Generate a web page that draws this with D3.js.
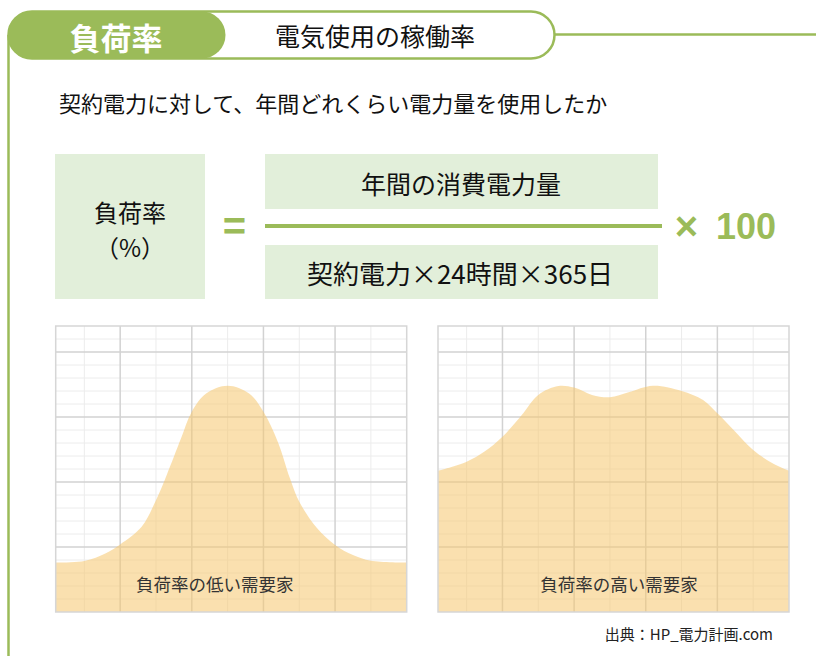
<!DOCTYPE html>
<html>
<head>
<meta charset="utf-8">
<script src="https://cdn.jsdelivr.net/npm/d3@7"></script>
<style>
  body { margin: 0; background: #fff; }
  text { font-family: "Noto Sans CJK JP", "Noto Sans", sans-serif; }
</style>
</head>
<body>
<div id="chart"></div>
<script>
// load profile, low load factor (x: time-ish units 0..49, y: 0..110)
var lowX = [0, 4, 7, 9, 12, 14, 15.5, 17.5, 19, 21, 24, 27, 29, 31, 32.7, 34, 36.5, 39, 41.5, 44, 49];
var lowY = [19, 19.6, 22.6, 26, 32.8, 43, 52.7, 66.8, 77, 84, 87, 84, 77, 65.5, 51.4, 42.4, 32.2, 25.8, 21.9, 19.7, 19];

// load profile, high load factor
var highX = [0, 4, 6.5, 9, 11.7, 14, 16.8, 19, 21.5, 24, 26.6, 30, 34, 37, 39, 41.5, 44, 46.7, 49];
var highY = [54.3, 57.8, 61.7, 67.4, 75.8, 83.5, 86.9, 86.3, 83.5, 82.6, 84.5, 87, 85, 81.5, 76.4, 69.3, 62.3, 57.2, 54.3];

// grid ticks
var majorX = [9, 19, 29, 39];
var minorX = [4, 14, 24, 34, 44];
var majorY = [25, 50, 75, 100];
var minorY = [5, 10, 15, 20, 30, 35, 40, 45, 55, 60, 65, 70, 80, 85, 90, 95, 105];

var chartLabels = ["負荷率の低い需要家", "負荷率の高い需要家"];

var green = "#9bbb59";
var boxFill = "#e2efda";

var svg = d3.select("#chart").append("svg")
  .attr("width", 816)
  .attr("height", 656);

// header
svg.append("line")
  .attr("x1", 8.5).attr("x2", 8.5).attr("y1", 35).attr("y2", 656)
  .attr("stroke", green).attr("stroke-width", 2.5);
svg.append("line")
  .attr("x1", 554).attr("x2", 816).attr("y1", 34.5).attr("y2", 34.5)
  .attr("stroke", green).attr("stroke-width", 2.5);
svg.append("rect")
  .attr("x", 8.5).attr("y", 11.5).attr("width", 546).attr("height", 47).attr("rx", 23.5)
  .attr("fill", "#fff").attr("stroke", green).attr("stroke-width", 2.5);
svg.append("rect")
  .attr("x", 8.5).attr("y", 11.5).attr("width", 217).attr("height", 47).attr("rx", 23.5)
  .attr("fill", green);
svg.append("text")
  .attr("x", 116).attr("y", 36)
  .attr("text-anchor", "middle").attr("dominant-baseline", "central")
  .attr("font-size", 31).attr("font-weight", "bold").attr("fill", "#fff")
  .text("負荷率");
svg.append("text")
  .attr("x", 375).attr("y", 35)
  .attr("text-anchor", "middle").attr("dominant-baseline", "central")
  .attr("font-size", 25).attr("fill", "#111")
  .text("電気使用の稼働率");

svg.append("text")
  .attr("x", 59).attr("y", 102)
  .attr("dominant-baseline", "central")
  .attr("font-size", 22).attr("fill", "#111")
  .text("契約電力に対して、年間どれくらい電力量を使用したか");

// formula
svg.append("rect").attr("x", 55).attr("y", 154).attr("width", 150).attr("height", 145).attr("fill", boxFill);
svg.append("rect").attr("x", 265).attr("y", 154).attr("width", 393).attr("height", 55).attr("fill", boxFill);
svg.append("rect").attr("x", 265).attr("y", 245).attr("width", 393).attr("height", 54).attr("fill", boxFill);

var fText = [
  {x: 130, y: 211, s: 24, t: "負荷率"},
  {x: 130, y: 246, s: 24, t: "（%）"},
  {x: 461, y: 183, s: 25, t: "年間の消費電力量"},
  {x: 460, y: 272, s: 26, t: "契約電力×24時間×365日"}
];
svg.selectAll(".ftext")
  .data(fText)
  .enter().append("text")
  .attr("class", "ftext")
  .attr("x", function(d) { return d.x; })
  .attr("y", function(d) { return d.y; })
  .attr("text-anchor", "middle").attr("dominant-baseline", "central")
  .attr("font-size", function(d) { return d.s; }).attr("fill", "#111")
  .text(function(d) { return d.t; });

svg.append("line")
  .attr("x1", 265).attr("x2", 662).attr("y1", 226).attr("y2", 226)
  .attr("stroke", green).attr("stroke-width", 4);
svg.append("text")
  .attr("x", 234.5).attr("y", 226)
  .attr("text-anchor", "middle").attr("dominant-baseline", "central")
  .style("font-family", "'Liberation Sans', Arial, sans-serif")
  .attr("font-size", 40).attr("font-weight", "bold").attr("fill", green)
  .text("=");
svg.append("text")
  .attr("x", 686.5).attr("y", 226)
  .attr("text-anchor", "middle").attr("dominant-baseline", "central")
  .style("font-family", "'Liberation Sans', Arial, sans-serif")
  .attr("font-size", 40).attr("font-weight", "bold").attr("fill", green)
  .text("×");
svg.append("text")
  .attr("x", 716).attr("y", 239)
  .style("font-family", "'Liberation Sans', Arial, sans-serif")
  .attr("font-size", 36).attr("font-weight", "bold").attr("fill", green)
  .text("100");

// the two load charts
var w = 351, h = 286;
var x = d3.scaleLinear().domain([0, 49]).range([0, w]);
var y = d3.scaleLinear().domain([0, 110]).range([h, 0]);

var area = d3.area()
  .x(function(d) { return x(d[0]); })
  .y0(h)
  .y1(function(d) { return y(d[1]); })
  .curve(d3.curveCatmullRom.alpha(0.5));

var charts = [
  {left: 55.7, xs: lowX, ys: lowY, label: chartLabels[0], lx: 159},
  {left: 438, xs: highX, ys: highY, label: chartLabels[1], lx: 181}
];

charts.forEach(function(c) {
  var g = svg.append("g").attr("transform", "translate(" + c.left + ",326)");

  g.selectAll(".minx").data(minorX).enter().append("line")
    .attr("x1", x).attr("x2", x).attr("y1", 0).attr("y2", h)
    .attr("stroke", "#ececec").attr("stroke-width", 1);
  g.selectAll(".miny").data(minorY).enter().append("line")
    .attr("y1", y).attr("y2", y).attr("x1", 0).attr("x2", w)
    .attr("stroke", "#ececec").attr("stroke-width", 1);
  g.selectAll(".majx").data(majorX).enter().append("line")
    .attr("x1", x).attr("x2", x).attr("y1", 0).attr("y2", h)
    .attr("stroke", "#d2d2d2").attr("stroke-width", 1.5);
  g.selectAll(".majy").data(majorY).enter().append("line")
    .attr("y1", y).attr("y2", y).attr("x1", 0).attr("x2", w)
    .attr("stroke", "#d2d2d2").attr("stroke-width", 1.5);

  var pts = c.xs.map(function(v, i) { return [v, c.ys[i]]; });
  g.append("path")
    .datum(pts)
    .attr("d", area)
    .attr("fill", "rgb(246,199,110)")
    .attr("fill-opacity", 0.55);

  g.append("rect")
    .attr("width", w).attr("height", h)
    .attr("fill", "none").attr("stroke", "#d6d6d6").attr("stroke-width", 1.5);

  g.append("text")
    .attr("x", c.lx).attr("y", 257)
    .attr("text-anchor", "middle").attr("dominant-baseline", "central")
    .attr("font-size", 17.5).attr("fill", "#333")
    .text(c.label);
});

svg.append("text")
  .attr("x", 773).attr("y", 633)
  .attr("text-anchor", "end").attr("dominant-baseline", "central")
  .attr("font-size", 15).attr("fill", "#222")
  .text("出典：HP_電力計画.com");
</script>
</body>
</html>
